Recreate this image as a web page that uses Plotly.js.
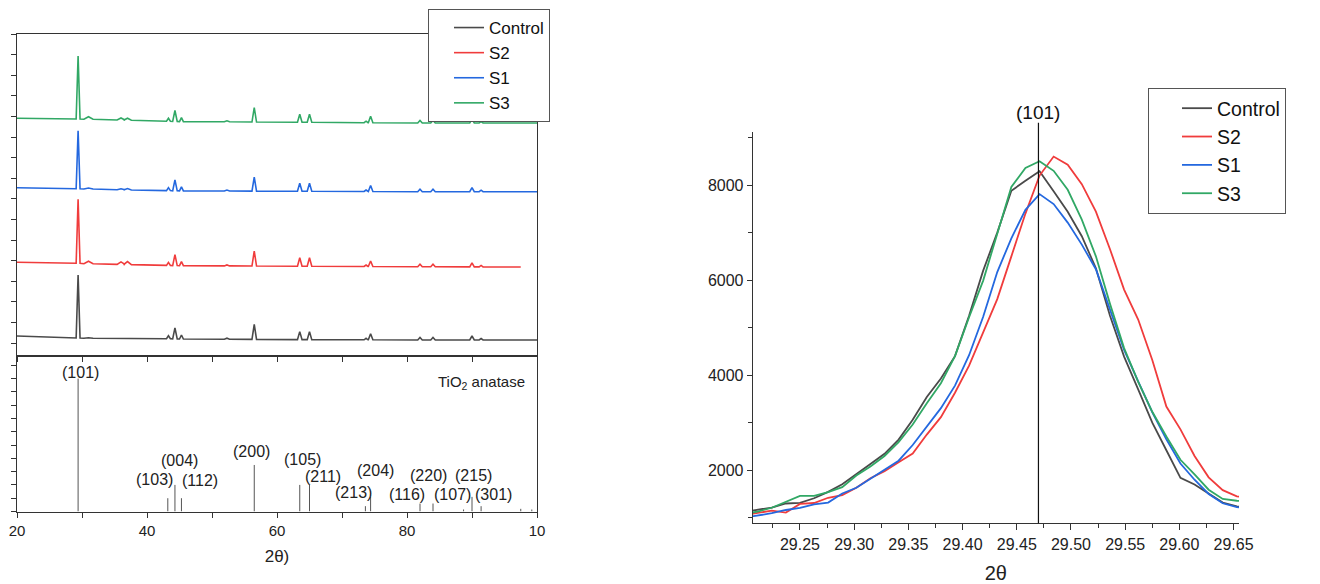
<!DOCTYPE html>
<html><head><meta charset="utf-8">
<script src="https://cdn.plot.ly/plotly-3.0.1.min.js"></script>
<style>html,body{margin:0;padding:0;background:#fff}#chart{width:1320px;height:584px}</style>
</head><body><div id="chart"></div>
<script>
// ================= DATA =================
// Series (legend order)
const seriesNames  = ['Control', 'S2', 'S1', 'S3'];

// --- Left panel: full XRD patterns (stacked, arbitrary units) ---
// reflection positions (2θ) where the patterns show peaks / bumps
const peakPos       = [29.4, 31.0, 36.0, 37.0, 43.3, 44.3, 45.3, 52.3, 56.5, 63.5, 65.0, 73.7, 74.4, 82.0, 84.0, 90.0, 91.4];
const peakHalfWidth = [0.3, 0.7, 0.6, 0.6, 0.3, 0.35, 0.3, 0.4, 0.35, 0.35, 0.35, 0.3, 0.35, 0.35, 0.35, 0.35, 0.3];

const controlEnds   = [[20, 20], [100, 16]];
const controlBase   = [18, 17.8, 17.5, 17.4, 17.2, 17.1, 17, 16.8, 16.6, 16.4, 16.4, 16.2, 16.2, 16, 16, 16, 16];
const controlHeight = [63, 0.5, 0.5, 0.5, 3, 11, 4, 1, 15, 8, 8, 1.5, 6, 2.5, 2.5, 4, 1.5];

const s2Ends   = [[20, 93.7], [97.5, 89]];
const s2Base   = [92.7, 92.3, 91.6, 91.4, 90.6, 90.4, 90.3, 90.1, 90, 89.8, 89.8, 89.5, 89.5, 89.2, 89.2, 89.1, 89.1];
const s2Height = [64, 2.5, 2.5, 3, 3, 11, 4, 1, 15, 8.5, 8.5, 1.5, 5.5, 2.5, 2.5, 4, 1.5];

const s1Ends   = [[20, 168.3], [100, 164.3]];
const s1Base   = [167.3, 167, 166.2, 166, 165.4, 165.2, 165.1, 165, 164.9, 164.7, 164.7, 164.5, 164.5, 164.3, 164.3, 164.3, 164.3];
const s1Height = [58, 1, 1, 1.5, 3, 11, 4, 1, 14, 8, 8, 1.5, 6, 2.5, 2.5, 4, 1.5];

const s3Ends   = [[20, 237.7], [100, 233]];
const s3Base   = [237, 236.8, 236, 235.8, 234.7, 234.5, 234.4, 234.2, 234, 233.7, 233.7, 233.3, 233.3, 233, 233, 233, 233];
const s3Height = [63, 2.5, 2, 2, 3, 11, 4, 1, 14.5, 8, 8, 1.5, 6.5, 2.5, 2.5, 4, 1.5];

// --- Left bottom: TiO2 anatase reference sticks ---
const stickPos    = [29.4, 43.2, 44.3, 45.3, 56.5, 63.5, 65.0, 73.6, 74.4, 82.0, 84.0, 88.7, 90.0, 91.4, 97.5, 99.2];
const stickHeight = [100, 10, 20, 10, 35, 20, 20, 4, 11, 6, 6, 1.5, 11, 4, 2, 1.5];
const hklText = ['(101)', '(103)', '(004)', '(112)', '(200)', '(105)', '(211)', '(213)', '(204)', '(116)', '(220)', '(107)', '(215)', '(301)'];
const refName = 'TiO<sub>2</sub> anatase';
const bottomTickVals = [20, 40, 60, 80, 100];
const bottomTickText = ['20', '40', '60', '80', '10'];

// --- Right panel: (101) peak zoom ---
const zoomTheta = [29.198, 29.211, 29.224, 29.237, 29.250, 29.263, 29.276, 29.289, 29.302, 29.315,
                   29.328, 29.341, 29.354, 29.367, 29.380, 29.393, 29.406, 29.419, 29.432, 29.445,
                   29.458, 29.471, 29.484, 29.497, 29.510, 29.523, 29.536, 29.549, 29.562, 29.575,
                   29.588, 29.601, 29.614, 29.627, 29.640, 29.653, 29.666];
const zoomControl = [1120, 1160, 1215, 1300, 1311, 1410, 1545, 1705, 1925, 2130,
                     2345, 2645, 3060, 3540, 3930, 4400, 5250, 6200, 7000, 7880,
                     8090, 8290, 7870, 7440, 6923, 6250, 5250, 4390, 3700, 3000,
                     2420, 1840, 1700, 1505, 1318, 1240, 1200];
const zoomS2 = [1050, 1095, 1150, 1108, 1290, 1310, 1420, 1478, 1630, 1830,
                1980, 2170, 2350, 2750, 3116, 3630, 4200, 4900, 5600, 6500,
                7400, 8200, 8600, 8430, 8020, 7440, 6650, 5800, 5170, 4320,
                3340, 2860, 2300, 1850, 1580, 1450, 1420];
const zoomS1 = [1000, 1047, 1095, 1163, 1206, 1283, 1320, 1510, 1630, 1820,
                2010, 2200, 2530, 2910, 3306, 3780, 4420, 5230, 6170, 6880,
                7480, 7810, 7600, 7210, 6747, 6230, 5400, 4530, 3870, 3220,
                2650, 2140, 1800, 1500, 1304, 1225, 1190];
const zoomS3 = [1080, 1130, 1210, 1330, 1459, 1460, 1540, 1645, 1890, 2080,
                2300, 2590, 2960, 3410, 3830, 4400, 5220, 5990, 6950, 7960,
                8360, 8503, 8300, 7900, 7274, 6500, 5500, 4570, 3860, 3230,
                2710, 2220, 1910, 1590, 1395, 1358, 1350];
const peak101 = 29.47;

// ================= STYLE / LAYOUT =================
const colors = {'Control': '#4a4a4a', 'S2': '#f03c3c', 'S1': '#2468df', 'S3': '#31a865'};
const FONT = 'Liberation Sans, Arial, sans-serif';

function buildPattern(ends, base, height) {
  const x = [ends[0][0]], y = [ends[0][1]];
  peakPos.forEach((p, i) => {
    const w = peakHalfWidth[i];
    x.push(p - w, p, p + w);
    y.push(base[i], base[i] + height[i], base[i]);
  });
  x.push(ends[1][0]); y.push(ends[1][1]);
  return {x, y};
}

const patterns = {
  'Control': buildPattern(controlEnds, controlBase, controlHeight),
  'S2': buildPattern(s2Ends, s2Base, s2Height),
  'S1': buildPattern(s1Ends, s1Base, s1Height),
  'S3': buildPattern(s3Ends, s3Base, s3Height)
};
const zooms = {'Control': zoomControl, 'S2': zoomS2, 'S1': zoomS1, 'S3': zoomS3};

const traces = [];
seriesNames.forEach(n => {
  traces.push({type: 'scatter', mode: 'lines', name: n, x: patterns[n].x, y: patterns[n].y,
    xaxis: 'x', yaxis: 'y', legend: 'legend', line: {color: colors[n], width: 1.6}});
});
// sticks
const sx = [], sy = [];
stickPos.forEach((p, i) => { sx.push(p, p, null); sy.push(0, stickHeight[i], null); });
traces.push({type: 'scatter', mode: 'lines', x: sx, y: sy, xaxis: 'x2', yaxis: 'y2',
  showlegend: false, line: {color: '#555', width: 1}, hoverinfo: 'skip'});
seriesNames.forEach(n => {
  traces.push({type: 'scatter', mode: 'lines', name: n, x: zoomTheta, y: zooms[n],
    xaxis: 'x3', yaxis: 'y3', legend: 'legend2', line: {color: colors[n], width: 1.8}});
});

// label placement (positions only)
const hklPlace = [[29.7, 104.6], [41.2, 24], [45.0, 38.6], [48.2, 23], [56.0, 44.9], [63.9, 39.4],
                  [67.1, 26.1], [71.7, 14.6], [75.1, 31.1], [80.0, 13.1], [83.3, 26.9], [87.0, 13.1],
                  [90.2, 26.9], [93.3, 13.1]];
const annotations = hklText.map((t, i) => ({text: t, x: hklPlace[i][0], y: hklPlace[i][1], xref: 'x2', yref: 'y2',
  showarrow: false, xanchor: 'center', yanchor: 'middle', font: {family: FONT, size: 16, color: '#222'}}));
annotations.push({text: refName, x: 98.5, y: 97.4, xref: 'x2', yref: 'y2', showarrow: false,
  xanchor: 'right', yanchor: 'middle', font: {family: FONT, size: 15, color: '#222'}});
annotations.push({text: '(101)', x: peak101, y: 1.048, xref: 'x3', yref: 'y3 domain', showarrow: false,
  xanchor: 'center', yanchor: 'middle', font: {family: FONT, size: 19, color: '#111'}});

const axLine = {showline: true, linecolor: '#333', linewidth: 1, showgrid: false, zeroline: false};
const W = 1320, H = 584;
const layout = {
  width: W, height: H, margin: {l: 0, r: 0, t: 0, b: 0},
  paper_bgcolor: '#fff', plot_bgcolor: '#fff',
  font: {family: FONT, color: '#222'},
  showlegend: true,
  xaxis: Object.assign({}, axLine, {domain: [17/W, 537/W], anchor: 'y', range: [20, 100], mirror: true,
    ticks: 'outside', tick0: 20, dtick: 10, ticklen: 5, tickcolor: '#333', showticklabels: false}),
  yaxis: Object.assign({}, axLine, {domain: [1 - 356/H, 1 - 34/H], anchor: 'x', range: [0, 322], mirror: true,
    ticks: 'outside', tick0: 13, dtick: 20.6, ticklen: 5, tickcolor: '#333', showticklabels: false}),
  xaxis2: Object.assign({}, axLine, {domain: [17/W, 537/W], anchor: 'y2', range: [20, 100], mirror: true,
    ticks: 'outside', tickmode: 'array', tickvals: bottomTickVals, ticktext: bottomTickText,
    minor: {tick0: 20, dtick: 10, ticks: 'outside', ticklen: 5, tickcolor: '#333', showgrid: false},
    ticklen: 5, tickcolor: '#333', tickfont: {family: FONT, size: 15, color: '#222'},
    title: {text: '2θ)', font: {family: FONT, size: 17, color: '#222'}, standoff: 12}}),
  yaxis2: Object.assign({}, axLine, {domain: [1 - 511.5/H, 1 - 356/H], anchor: 'x2', range: [0, 117], mirror: true,
    ticks: 'outside', tick0: 0, dtick: 10, ticklen: 5, tickcolor: '#333', showticklabels: false}),
  xaxis3: Object.assign({}, axLine, {domain: [752.7/W, 1239/W], anchor: 'y3', range: [29.2064, 29.655],
    ticks: 'outside', tick0: 29.25, dtick: 0.05, ticklen: 6, tickcolor: '#333', tickformat: '.2f',
    minor: {dtick: 0.025, ticks: 'outside', ticklen: 4, tickcolor: '#333', showgrid: false},
    tickfont: {family: FONT, size: 16, color: '#222'},
    title: {text: '2θ', font: {family: FONT, size: 20, color: '#222'}, standoff: 14}}),
  yaxis3: Object.assign({}, axLine, {domain: [1 - 523.3/H, 1 - 131.7/H], anchor: 'x3', range: [883, 9123],
    ticks: 'outside', tick0: 0, dtick: 2000, ticklen: 5, tickcolor: '#333',
    minor: {dtick: 1000, ticks: 'outside', ticklen: 4, tickcolor: '#333', showgrid: false},
    tickfont: {family: FONT, size: 16, color: '#222'}}),
  legend: {x: 428/W, y: 1 - 9/H, xanchor: 'left', yanchor: 'top', bgcolor: '#fff', bordercolor: '#555', borderwidth: 1,
    font: {family: FONT, size: 17, color: '#111'}, tracegroupgap: 0, itemwidth: 30, indentation: 20},
  legend2: {x: 1148/W, y: 1 - 88/H, xanchor: 'left', yanchor: 'top', bgcolor: '#fff', bordercolor: '#555', borderwidth: 1,
    font: {family: FONT, size: 19.5, color: '#111'}, tracegroupgap: 0, itemwidth: 30, indentation: 28},
  shapes: [{type: 'line', xref: 'x3', yref: 'y3 domain', x0: peak101, x1: peak101, y0: 0, y1: 1.023,
    line: {color: '#111', width: 1.2}}],
  annotations: annotations
};
Plotly.newPlot('chart', traces, layout, {staticPlot: true});
</script></body></html>
